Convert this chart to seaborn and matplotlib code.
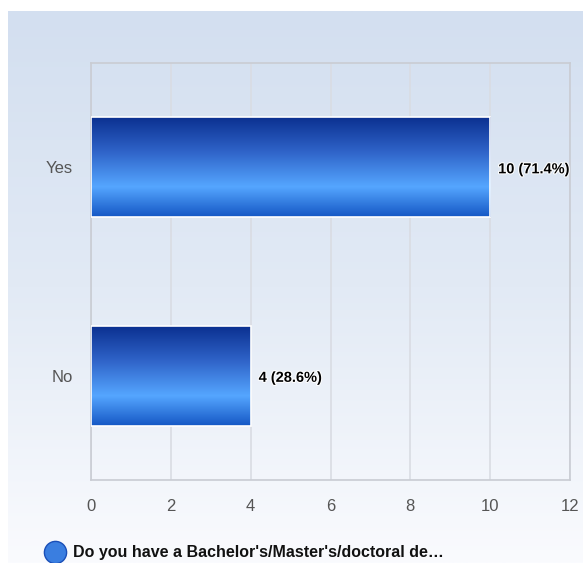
import numpy as np
import pandas as pd
import matplotlib.pyplot as plt
import matplotlib.colors as mcolors
from matplotlib.lines import Line2D
import matplotlib.patheffects as pe
import seaborn as sns

# ========== DADOS ==========
respostas = ['Yes', 'No']
contagens = [10, 4]
percentuais = [71.4, 28.6]
legenda_texto = "Do you have a Bachelor's/Master's/doctoral de\u2026"
x_ticks = [0, 2, 4, 6, 8, 10, 12]

df = pd.DataFrame({'resposta': respostas, 'contagem': contagens})

sns.set_style('white')
plt.rcParams['font.family'] = ['Liberation Sans', 'DejaVu Sans']

fig = plt.figure(figsize=(5.83, 5.63), dpi=100)
fig.patch.set_facecolor('white')

# fundo em degradê (azul claro -> branco)
bg = fig.add_axes([8 / 583, 0, 1 - 8 / 583, 1 - 11 / 563], zorder=-10)
grad_bg = np.linspace(0, 1, 256).reshape(-1, 1)
cmap_bg = mcolors.LinearSegmentedColormap.from_list('bg', ['#d3dff0', '#e2eaf5', '#fafbfe'])
bg.imshow(grad_bg, aspect='auto', cmap=cmap_bg, extent=[0, 1, 0, 1], origin='upper')
bg.set_axis_off()

ax = fig.add_axes([91 / 583, 1 - 480 / 563, (570 - 91) / 583, (480 - 63) / 563])
ax.set_facecolor('none')

sns.barplot(data=df, y='resposta', x='contagem', orient='h', ax=ax,
            color='#2a6ad8', width=0.48, edgecolor='white', linewidth=1.2, zorder=3)

ax.set_xlim(0, 12)
ax.set_xticks(x_ticks)
ax.set_xticklabels([str(t) for t in x_ticks])
ax.set_xlabel('')
ax.set_ylabel('')
ax.grid(True, axis='x', color='#d9dce3', linewidth=1.2, zorder=0)
ax.grid(False, axis='y')
ax.tick_params(axis='x', length=0, pad=14, labelsize=12, labelcolor='#555555')
ax.tick_params(axis='y', length=0, pad=13, labelsize=12, labelcolor='#555555')
for s in ax.spines.values():
    s.set_visible(True)
    s.set_color('#c9ccd3')
    s.set_linewidth(1.2)

# degradê nas barras
cmap_bar = mcolors.LinearSegmentedColormap.from_list(
    'bar', [(0.0, '#0a2f8f'), (0.35, '#2f63c8'), (0.7, '#55a6ff'), (1.0, '#1557c4')])
grad_bar = np.linspace(0, 1, 256).reshape(-1, 1)
for patch in ax.patches:
    x0, y0 = patch.get_x(), patch.get_y()
    w, h = patch.get_width(), patch.get_height()
    im = ax.imshow(grad_bar, aspect='auto', cmap=cmap_bar,
                   extent=[x0, x0 + w, y0 + h, y0], origin='upper', zorder=4)
    im.set_clip_path(patch)
    patch.set_facecolor('none')
    patch.set_zorder(5)

ax.set_ylim(1.5, -0.5)

# rótulos de valor
for i, (c, p) in enumerate(zip(contagens, percentuais)):
    ax.text(c + 0.2, i + 0.01, f'{c} ({p}%)', va='center', ha='left', fontsize=10.5,
            fontweight='bold', color='black', zorder=6,
            path_effects=[pe.withStroke(linewidth=1.5, foreground='white')])

# legenda
fig.add_artist(Line2D([55 / 583], [1 - 552 / 563], marker='o', markersize=16,
                      markerfacecolor='#3a7ee0', markeredgecolor='#1a4fb8',
                      transform=fig.transFigure))
fig.text(73 / 583, 1 - 553 / 563, legenda_texto, fontsize=11.5, fontweight='bold',
         color='#111111', va='center', ha='left')

plt.savefig('out.png', dpi=100, facecolor='white')
